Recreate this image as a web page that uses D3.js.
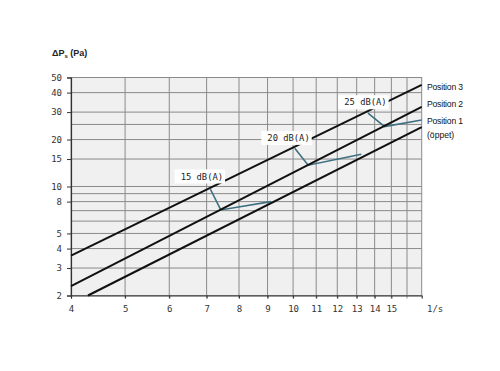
<!DOCTYPE html>
<html>
<head>
<meta charset="utf-8">
<script src="https://cdn.jsdelivr.net/npm/d3@7"></script>
<style>
  body { margin: 0; background: #fff; }
  svg { display: block; }
</style>
</head>
<body>
<svg id="chart" width="500" height="371"></svg>
<script>
// axis ticks
var xTicks = [4, 5, 6, 7, 8, 9, 10, 11, 12, 13, 14, 15];
var xGrid = [5, 6, 7, 8, 9, 10, 11, 12, 13, 14, 15, 16];
var yTicks = [2, 3, 4, 5, 8, 10, 15, 20, 30, 40, 50];
var yGrid = [3, 4, 5, 6, 7, 8, 9, 10, 15, 20, 25, 30, 40];

// damper positions: [flow l/s, pressure Pa] end points
var positions = ["Position 3", "Position 2", "Position 1"];
var posLines = [
    [[4, 3.6], [17, 44.8]],
    [[4, 2.3], [17, 32.4]],
    [[4.29, 2], [17, 24]]
];

// sound level curves
var dbLabels = ["15 dB(A)", "20 dB(A)", "25 dB(A)"];
var dbLines = [
    [[7.11, 9.6], [7.42, 7.07], [9.12, 8.0]],
    [[10.07, 17.6], [10.64, 13.7], [13.25, 16.1]],
    [[13.62, 29.5], [14.59, 24.2], [17, 26.7]]
];
var dbLabelAt = [[7.49, 11.6], [10.71, 20.5], [14.71, 34.7]];

var svg = d3.select('#chart');
var mono = "DejaVu Sans Mono, monospace";
var sans = "Liberation Sans, Arial, sans-serif";

var x = d3.scaleLog().domain([4, 17]).range([71, 421.7]);
var y = d3.scaleLog().domain([2, 50]).range([295.5, 77.5]);

svg.append('rect')
    .attr('x', x(4)).attr('y', y(50))
    .attr('width', x(17) - x(4)).attr('height', y(2) - y(50))
    .attr('fill', '#f0f0f0')
    .attr('stroke', '#8a8a8a')
    .attr('stroke-width', 1);

svg.append('g').selectAll('line')
    .data(yGrid)
    .enter().append('line')
    .attr('x1', x(4)).attr('x2', x(17))
    .attr('y1', d => y(d)).attr('y2', d => y(d))
    .attr('stroke', '#8a8a8a')
    .attr('stroke-width', 1);

svg.append('g').selectAll('line')
    .data(xGrid)
    .enter().append('line')
    .attr('x1', d => x(d)).attr('x2', d => x(d))
    .attr('y1', y(50)).attr('y2', y(2) + 3)
    .attr('stroke', '#8a8a8a')
    .attr('stroke-width', 1);

// axes
var yAxis = d3.axisLeft(y).tickValues(yTicks).tickFormat(d3.format('d')).tickSize(4).tickPadding(5);
var gy = svg.append('g').attr('transform', 'translate(' + x(4) + ',0)').call(yAxis);
var xAxis = d3.axisBottom(x).tickValues(xTicks).tickFormat(d3.format('d')).tickSize(3).tickPadding(7);
var gx = svg.append('g').attr('transform', 'translate(0,' + y(2) + ')').call(xAxis);
[gx, gy].forEach(function(g) {
    g.select('.domain').attr('stroke', '#333').attr('stroke-width', 1.2);
    g.selectAll('.tick line').attr('stroke', '#333');
    g.selectAll('.tick text')
        .attr('font-family', mono)
        .attr('font-size', 9)
        .attr('fill', '#333');
});

svg.append('text')
    .attr('x', 427).attr('y', y(2) + 16)
    .attr('font-family', mono).attr('font-size', 9).attr('fill', '#333')
    .text('1/s');

var yLabel = svg.append('text')
    .attr('x', 52).attr('y', 56)
    .attr('font-family', sans).attr('font-size', 9)
    .attr('font-weight', 'bold').attr('fill', '#222');
yLabel.append('tspan').text('ΔP');
yLabel.append('tspan').attr('font-size', 6).attr('dy', 2).text('s');
yLabel.append('tspan').attr('dy', -2).text(' (Pa)');

var line = d3.line().x(d => x(d[0])).y(d => y(d[1]));

svg.append('g').selectAll('path')
    .data(dbLines)
    .enter().append('path')
    .attr('d', line)
    .attr('fill', 'none')
    .attr('stroke', '#3c6f7f')
    .attr('stroke-width', 1.6);

svg.append('g').selectAll('path')
    .data(posLines)
    .enter().append('path')
    .attr('d', line)
    .attr('fill', 'none')
    .attr('stroke', '#111')
    .attr('stroke-width', 2);

// dB labels with white boxes
var lab = svg.append('g').selectAll('g')
    .data(dbLabels)
    .enter().append('g')
    .attr('transform', (d, i) => 'translate(' + x(dbLabelAt[i][0]) + ',' + y(dbLabelAt[i][1]) + ')');
lab.append('rect')
    .attr('x', d => -d.length * 5.3 - 6).attr('y', -7)
    .attr('width', d => d.length * 5.3 + 8).attr('height', 14)
    .attr('fill', '#fff');
lab.append('text')
    .attr('text-anchor', 'end')
    .attr('dy', '0.35em')
    .attr('font-family', mono).attr('font-size', 8.8)
    .attr('fill', '#222')
    .text(d => d);

// position labels
var posLabelY = [86.7, 104, 120.7];
svg.append('g').selectAll('text')
    .data(positions)
    .enter().append('text')
    .attr('x', 427).attr('y', (d, i) => posLabelY[i])
    .attr('dy', '0.35em')
    .attr('font-family', sans).attr('font-size', 8.6)
    .attr('letter-spacing', -0.2)
    .attr('fill', '#111')
    .text(d => d);
svg.append('text')
    .attr('x', 427).attr('y', 135).attr('dy', '0.35em')
    .attr('font-family', sans).attr('font-size', 8.6)
    .attr('fill', '#111')
    .text('(öppet)');
</script>
</body>
</html>
